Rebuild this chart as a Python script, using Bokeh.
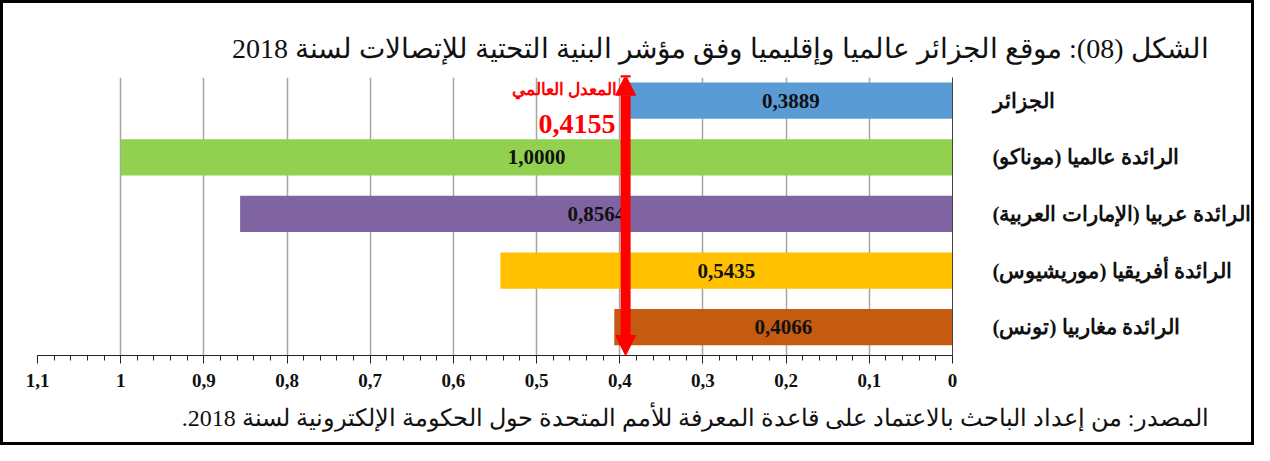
from bokeh.plotting import figure
from bokeh.models import (ColumnDataSource, LabelSet, Label, Arrow, NormalHead,
                          FixedTicker, Title, Range1d)
from bokeh.core.properties import value
from bokeh.embed import file_html
from bokeh.resources import INLINE
import numpy as np

RLM = "\u200F"

categories = ["الجزائر", "الرائدة عالميا (موناكو)", "الرائدة عربيا (الإمارات العربية)",
              "الرائدة أفريقيا (موريشيوس)", "الرائدة مغاربيا (تونس)"]
values = [0.3889, 1.0000, 0.8564, 0.5435, 0.4066]
value_labels = ["0,3889", "1,0000", "0,8564", "0,5435", "0,4066"]
colors = ["#5B9BD5", "#92D050", "#8064A2", "#FFC000", "#C55A11"]

world_avg_text = "المعدل العالمي"
world_avg_label = "0,4155"
avg_marker_x = 0.393  # where the red arrow is drawn in the picture

tick_values = [0, 0.1, 0.2, 0.3, 0.4, 0.5, 0.6, 0.7, 0.8, 0.9, 1.0, 1.1]
tick_labels = ["0", "0,1", "0,2", "0,3", "0,4", "0,5", "0,6", "0,7", "0,8", "0,9", "1", "1,1"]

title_text = "الشكل (08): موقع الجزائر عالميا وإقليميا وفق مؤشر البنية التحتية للإتصالات لسنة 2018"
source_text = "المصدر: من إعداد الباحث بالاعتماد على قاعدة المعرفة للأمم المتحدة حول الحكومة الإلكترونية لسنة 2018."

SERIF = "Liberation Serif"

n = len(categories)
rows = [n - 1 - i for i in range(n)]  # first category at top

src = ColumnDataSource(dict(
    y=rows, right=values, mid=[v / 2 for v in values], color=colors,
    lab=value_labels))

W, H = 1254, 445
p = figure(width=W, height=H, output_backend="svg", toolbar_location=None,
           x_range=Range1d(1.1, 0), y_range=Range1d(-0.5, n - 1 + 0.41),
           y_axis_location="right",
           min_border_left=34, min_border_right=305,
           min_border_top=74, min_border_bottom=93)
p.styles = {"border": "3px solid #000"}
p.outline_line_color = None
p.background_fill_color = "white"
p.border_fill_color = "white"

# bars
p.hbar(y="y", left=0, right="right", height=0.64, color="color", line_color=None, source=src)

# value labels
p.add_layout(LabelSet(x="mid", y="y", text="lab", source=src, text_align="center",
                      text_baseline="middle", text_font=value(SERIF), text_font_style="bold",
                      text_font_size="21px", text_color="#111"))

# x axis
p.xaxis.ticker = FixedTicker(ticks=tick_values,
                             minor_ticks=list(np.round(np.arange(0, 1.1001, 0.02), 2)))
p.xaxis.major_label_overrides = {v: l for v, l in zip(tick_values, tick_labels)}
p.xaxis.major_label_text_font = SERIF
p.xaxis.major_label_text_font_style = "bold"
p.xaxis.major_label_text_font_size = "19px"
p.xaxis.major_label_text_color = "#111"
p.xaxis.major_label_standoff = 10
p.xaxis.axis_line_color = "#222"
p.xaxis.major_tick_line_color = "#222"
p.xaxis.minor_tick_line_color = "#222"
p.xaxis.major_tick_out = 8
p.xaxis.major_tick_in = 0
p.xaxis.minor_tick_out = 5
p.xaxis.minor_tick_in = 0

# y axis (category names, right side)
p.yaxis.ticker = FixedTicker(ticks=rows)
p.yaxis.major_label_overrides = {r: c + RLM for r, c in zip(rows, categories)}
p.yaxis.major_label_text_font = SERIF
p.yaxis.major_label_text_font_style = "bold"
p.yaxis.major_label_text_font_size = "21px"
p.yaxis.major_label_text_color = "#111"
p.yaxis.major_label_standoff = 34
p.yaxis.axis_line_color = "#444"
p.yaxis.major_tick_line_color = None
p.yaxis.minor_tick_line_color = None

# grid
p.xgrid.ticker = FixedTicker(ticks=tick_values)
p.xgrid.grid_line_color = "#A6A6A6"
p.xgrid.grid_line_width = 1.5
p.ygrid.visible = False

# world average arrow & labels
p.add_layout(Arrow(x_start=avg_marker_x, y_start=-0.5, x_end=avg_marker_x, y_end=n - 1 + 0.45,
                   line_color="red", line_width=10,
                   start=NormalHead(size=20, fill_color="red", line_color="red"),
                   end=NormalHead(size=20, fill_color="red", line_color="red")))
p.add_layout(Label(x=avg_marker_x + 0.01, y=n - 1 + 0.2, text=world_avg_text + RLM,
                   text_align="right", text_baseline="middle", text_color="red",
                   text_font=SERIF, text_font_size="17px", text_font_style="bold"))
p.add_layout(Label(x=avg_marker_x + 0.012, y=n - 1 - 0.42, text=world_avg_label,
                   text_align="right", text_baseline="middle", text_color="red",
                   text_font=SERIF, text_font_size="28px", text_font_style="bold"))

# title and source
p.title = Title(text=title_text + RLM, align="right", offset=-256,
                text_font=SERIF, text_font_size="28px", text_font_style="normal",
                text_color="#111", standoff=28)
p.add_layout(Title(text=source_text + RLM, align="right", offset=-256,
                   text_font=SERIF, text_font_size="24px", text_font_style="normal",
                   text_color="#111", standoff=27), "below")

open("out.html", "w").write(file_html(p, INLINE))
